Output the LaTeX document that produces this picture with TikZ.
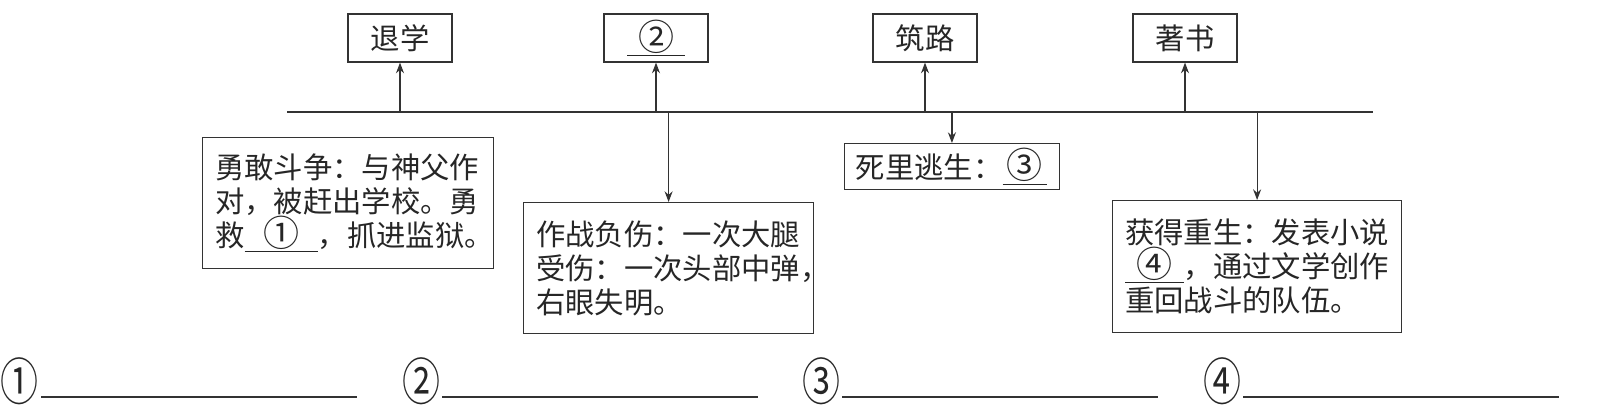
\documentclass[tikz,border=0pt]{standalone}
\usepackage{fontspec}
\usepackage{graphicx}
\setmainfont{Noto Sans CJK SC}
\usetikzlibrary{arrows.meta}

\newcommand\fillin[2]{\underline{\makebox[#1]{\fontsize{27}{25.5}\selectfont #2}}}

\begin{document}
\begin{tikzpicture}[x=0.75pt, y=-0.75pt,
    every node/.style={font=\fontsize{22}{25.5}\selectfont, text=black!85},
    stage/.style={draw=black!80, line width=0.9pt, minimum width=78pt, minimum height=36pt, inner sep=0pt},
    event/.style={draw=black!80, line width=0.9pt, anchor=north west, align=left, inner xsep=9.5pt, inner ysep=0pt},
    link/.style={draw=black!80, line width=0.9pt, -{Stealth[length=8pt, width=6pt]}},
    answer/.style={font=\fontsize{38}{38}\selectfont, inner sep=0pt}]
    \useasboundingbox (0, 0) rectangle (1597, 408);

    % time line
    \coordinate (lineL) at (287, 112);
    \coordinate (lineR) at (1373, 112);
    \draw[draw=black!80, line width=0.9pt] (lineL) -- (lineR);

    % stages above the line
    \node[stage] (tuixue) at (400, 38) {退学};
    \node[stage] (blank2) at (656, 38) {\fillin{43pt}{②}};
    \node[stage] (zhulu) at (925, 38) {筑路};
    \node[stage] (zhushu) at (1185, 38) {著书};

    % events below the line
    \node[event, text width=199pt, minimum height=98.25pt] (douzheng) at (202, 137)
        {勇敢斗争：与神父作\\对，被赶出学校。勇\\救\fillin{55pt}{①}，抓进监狱。};
    \node[event, text width=198.5pt, minimum height=98.25pt] (fushang) at (523, 202)
        {作战负伤：一次大腿\\受伤：一次头部中弹，\\右眼失明。};
    \node[event, text width=144pt, inner xsep=8.5pt, minimum height=34.5pt] (taosheng) at (844, 143)
        {死里逃生：\fillin{33pt}{③}};
    \node[event, text width=197.75pt, minimum height=99pt] (chongsheng) at (1112, 200)
        {获得重生：发表小说\\\fillin{44pt}{④}，通过文学创作\\重回战斗的队伍。};

    \draw[link] (tuixue |- lineL) -- (tuixue);
    \draw[link] (blank2 |- lineL) -- (blank2);
    \draw[link] (zhulu |- lineL) -- (zhulu);
    \draw[link] (zhushu |- lineL) -- (zhushu);
    \draw[link] (fushang |- lineL) -- (fushang);
    \draw[link] (taosheng |- lineL) -- (taosheng);
    \draw[link] (chongsheng |- lineL) -- (chongsheng);

    % answer blanks
    \foreach \n/\x in {①/20, ②/421, ③/821, ④/1222} {
        \node[answer] (ans\x) at (\x, 381) {\scalebox{0.75}[1]{\n}};
        \draw[draw=black!80, line width=0.9pt] (\x+21, 397) -- (\x+337, 397);
    }
\end{tikzpicture}
\end{document}
